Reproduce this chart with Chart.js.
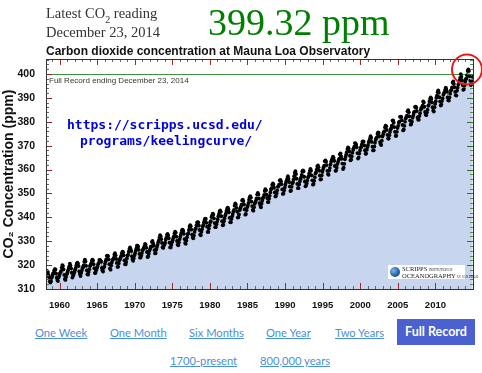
<!DOCTYPE html>
<html>
<head>
<meta charset="utf-8">
<script src="https://cdn.jsdelivr.net/npm/chart.js@4.4.1/dist/chart.umd.min.js"></script>
<style>
  body { margin: 0; background: #fff; }
  #wrap { position: relative; width: 482px; height: 373px; overflow: hidden; }
  #keeling { position: absolute; left: 0; top: 0; }
  .abs { position: absolute; white-space: nowrap; }
  .latest { left: 46px; top: 5px; font: 14.5px/17.5px "Liberation Serif", serif; color: #333; }
  .latest .sub { font-size: 10px; position: relative; top: 5px; }
  .ppm { left: 208px; top: 3px; font: 38px/38px "Liberation Serif", serif; color: #008000; }
  .title { left: 46px; top: 44px; font: bold 12px/14px "Liberation Sans", Arial, sans-serif; color: #111; }
  .url { font: bold 13px/16px "DejaVu Sans Mono", monospace; color: #0000dd; }
  .logo { left: 388px; top: 265px; width: 77px; height: 14px; background: #fff; }
  .logo .globe { position: absolute; left: 2px; top: 2px; width: 10px; height: 10px; border-radius: 50%;
                 background: radial-gradient(circle at 35% 35%, #7fb6e8, #1d5fa8 60%, #0d3b73); }
  .logo .t1 { position: absolute; left: 14px; top: 0px; font: 6.5px/7px "Liberation Serif", serif; color: #222; }
  .logo .t2 { position: absolute; left: 14px; top: 6.5px; font: 6.5px/7px "Liberation Serif", serif; color: #222; }
  .logo small { font-size: 3px; }
  .lnk { font: 11.2px/16px Lato, "Open Sans", sans-serif; color: #4a8fd8; text-decoration: underline; }
  .btn { left: 397px; top: 319px; width: 78px; height: 26px; background: #4a61cf; color: #fff;
         font: bold 12.5px/26px Lato, sans-serif; text-align: center; }
</style>
</head>
<body>
<div id="wrap">
  <canvas id="keeling" width="482" height="310"></canvas>

  <div class="abs latest">Latest CO<span class="sub">2</span> reading<br>December 23, 2014</div>
  <div class="abs ppm">399.32 ppm</div>
  <div class="abs title">Carbon dioxide concentration at Mauna Loa Observatory</div>

  <div class="abs url" style="left:67px; top:117px;">https://scripps.ucsd.edu/</div>
  <div class="abs url" style="left:80px; top:133px;">programs/keelingcurve/</div>

  <div class="abs logo">
    <div class="globe"></div>
    <div class="t1">SCRIPPS <small>INSTITUTION OF</small></div>
    <div class="t2">OCEANOGRAPHY <small>UC SAN DIEGO</small></div>
  </div>

  <div class="abs lnk" style="left:35px; top:325px;">One Week</div>
  <div class="abs lnk" style="left:110px; top:325px;">One Month</div>
  <div class="abs lnk" style="left:189px; top:325px;">Six Months</div>
  <div class="abs lnk" style="left:266px; top:325px;">One Year</div>
  <div class="abs lnk" style="left:335px; top:325px;">Two Years</div>
  <div class="abs btn">Full Record</div>
  <div class="abs lnk" style="left:170px; top:353px;">1700-present</div>
  <div class="abs lnk" style="left:260px; top:353px;">800,000 years</div>
</div>

<script>
// monthly CO2 (ppm), first value is March 1958
const co2_1950s = [
  315.7, 317.5, 317.5, 317.1, 315.9, 314.9, 313.2, 312.7, 313.3, 314.7,
  315.6, 316.4, 316.7, 317.7, 318.3, 318.2, 316.5, 314.8, 313.8, 313.3, 314.8, 315.6
];
const co2_1960s = [
  316.4, 317.0, 317.6, 319.0, 320.0, 319.6, 318.2, 315.9, 314.2, 313.8, 315.0, 316.2,
  316.9, 317.7, 318.5, 319.5, 320.6, 319.8, 318.6, 316.8, 314.8, 315.4, 316.1, 317.0,
  317.9, 318.6, 319.7, 320.6, 321.0, 320.6, 319.6, 317.4, 316.3, 315.4, 316.7, 317.7,
  318.7, 319.1, 319.9, 321.4, 322.3, 321.5, 319.7, 317.8, 316.2, 316.0, 317.1, 318.3,
  319.6, 320.1, 320.7, 321.8, 322.3, 321.9, 320.4, 318.7, 316.7, 316.8, 317.8, 318.7,
  319.4, 320.4, 320.9, 322.1, 322.2, 321.9, 321.4, 318.8, 317.8, 317.3, 318.9, 319.4,
  320.6, 321.6, 322.4, 323.9, 324.0, 323.8, 322.4, 320.4, 318.6, 318.1, 319.8, 321.1,
  322.1, 322.5, 323.0, 324.4, 325.0, 324.1, 322.6, 320.9, 319.3, 319.3, 320.7, 322.0,
  322.6, 323.2, 323.9, 325.0, 325.6, 325.4, 324.1, 322.0, 320.4, 320.3, 321.3, 322.8,
  324.0, 324.4, 325.6, 326.7, 327.4, 326.7, 325.9, 323.7, 322.4, 321.8, 322.9, 324.1
];
const co2_1970s = [
  325.0, 326.0, 326.9, 328.1, 328.1, 327.7, 326.4, 324.7, 323.1, 323.2, 324.0, 325.1,
  326.2, 326.7, 327.2, 327.8, 328.9, 328.6, 327.3, 325.5, 323.4, 323.6, 324.8, 326.0,
  326.8, 327.6, 327.8, 329.7, 330.1, 329.1, 328.1, 326.3, 324.9, 325.1, 326.5, 327.6,
  328.5, 329.6, 330.3, 331.5, 332.5, 332.1, 330.9, 329.3, 327.5, 327.2, 328.2, 328.6,
  329.4, 330.7, 331.5, 332.7, 333.1, 332.3, 331.2, 329.4, 327.4, 327.4, 328.5, 329.6,
  330.4, 331.4, 332.0, 333.3, 334.0, 333.6, 331.9, 330.1, 328.6, 328.3, 329.5, 330.8,
  331.8, 332.6, 333.5, 334.6, 334.9, 334.3, 333.1, 330.9, 329.3, 328.9, 330.3, 331.7,
  332.9, 333.4, 334.7, 336.1, 336.7, 336.3, 334.9, 332.8, 331.6, 331.2, 332.4, 333.9,
  335.0, 335.4, 336.6, 337.8, 338.0, 337.9, 336.5, 334.7, 332.8, 332.5, 333.9, 335.0,
  336.2, 336.8, 338.0, 338.9, 339.5, 339.3, 337.7, 336.1, 333.9, 333.9, 335.3, 336.7
];
const co2_1980s = [
  338.0, 338.4, 340.1, 340.8, 341.5, 341.2, 339.6, 337.6, 335.9, 336.0, 337.1, 338.2,
  339.2, 340.5, 341.4, 342.5, 342.9, 342.3, 340.5, 338.4, 336.7, 336.9, 338.4, 339.6,
  340.8, 341.6, 342.7, 343.6, 344.1, 343.4, 342.1, 339.8, 338.0, 337.9, 339.3, 340.5,
  341.4, 342.5, 343.1, 344.9, 345.8, 345.3, 344.0, 342.4, 339.9, 340.0, 341.2, 343.0,
  343.7, 344.5, 345.3, 347.1, 347.4, 346.8, 345.4, 343.3, 341.1, 341.4, 343.0, 344.2,
  345.0, 346.0, 347.4, 348.4, 348.9, 348.3, 346.6, 344.7, 343.1, 342.8, 344.2, 345.6,
  346.3, 347.0, 347.9, 349.6, 350.2, 349.6, 347.9, 345.9, 344.9, 344.2, 345.7, 346.9,
  348.0, 348.5, 349.4, 351.0, 351.8, 351.3, 349.5, 348.1, 346.4, 346.4, 347.8, 349.0,
  350.4, 351.7, 352.2, 353.6, 354.2, 353.8, 352.4, 350.4, 348.7, 348.9, 350.1, 351.3,
  352.8, 353.1, 353.7, 355.4, 355.7, 355.1, 353.9, 351.7, 349.8, 350.0, 351.3, 352.5
];
const co2_1990s = [
  353.7, 354.7, 355.4, 356.2, 357.2, 356.2, 354.8, 352.9, 351.0, 351.2, 352.8, 354.2,
  354.7, 355.8, 357.2, 358.6, 359.3, 358.2, 356.2, 354.0, 352.2, 352.2, 353.8, 355.0,
  356.0, 356.7, 357.8, 359.2, 359.7, 359.3, 357.0, 355.0, 353.0, 353.3, 354.2, 355.4,
  356.7, 357.2, 358.4, 359.5, 360.3, 359.6, 357.6, 355.5, 353.7, 354.0, 355.3, 356.8,
  358.4, 358.9, 360.0, 361.3, 361.7, 361.0, 359.6, 357.5, 355.8, 356.0, 357.6, 359.0,
  360.0, 361.0, 361.6, 363.5, 363.8, 363.3, 361.9, 359.5, 358.1, 357.8, 359.6, 360.7,
  362.1, 363.3, 364.0, 364.7, 365.4, 365.0, 363.7, 361.5, 359.5, 359.6, 360.8, 362.3,
  363.2, 364.0, 364.6, 366.4, 366.8, 365.6, 364.5, 362.5, 360.2, 360.8, 362.4, 364.3,
  365.3, 366.2, 367.3, 368.6, 369.3, 368.9, 367.6, 365.8, 363.9, 364.2, 365.5, 367.0,
  368.2, 368.9, 369.6, 371.1, 371.0, 370.4, 369.3, 366.9, 364.6, 365.1, 366.7, 368.0
];
const co2_2000s = [
  369.1, 369.5, 370.5, 371.7, 371.8, 371.7, 370.1, 368.1, 366.6, 366.7, 368.3, 369.5,
  370.3, 371.5, 372.1, 372.9, 374.0, 373.3, 371.6, 369.6, 368.0, 368.1, 369.7, 371.2,
  372.4, 373.1, 373.5, 374.9, 375.6, 375.4, 374.0, 371.5, 370.7, 370.3, 372.1, 373.8,
  374.7, 375.6, 376.1, 377.7, 378.4, 378.1, 376.6, 374.5, 373.0, 373.0, 374.4, 375.7,
  376.8, 377.4, 378.4, 380.5, 380.6, 379.6, 377.8, 375.8, 374.1, 374.2, 375.8, 377.4,
  378.3, 379.6, 380.1, 382.1, 382.2, 382.1, 380.7, 378.7, 376.4, 376.8, 378.3, 380.0,
  381.4, 382.0, 382.6, 384.4, 384.9, 384.0, 382.3, 380.5, 378.8, 379.1, 380.1, 381.7,
  382.6, 383.7, 384.3, 386.2, 386.4, 385.9, 384.5, 381.8, 380.9, 380.9, 382.4, 383.6,
  385.1, 385.8, 385.8, 386.8, 388.5, 388.1, 386.3, 384.1, 383.1, 382.8, 384.0, 385.1,
  386.7, 387.1, 388.5, 389.6, 390.2, 389.6, 388.1, 386.1, 384.7, 384.3, 386.1, 387.5
];
const co2_2010s = [
  388.6, 390.1, 391.0, 392.4, 393.2, 392.2, 390.3, 388.5, 386.8, 387.2, 388.7, 389.8,
  391.3, 391.9, 392.5, 393.4, 394.3, 393.7, 392.6, 390.2, 389.0, 388.9, 390.2, 391.8,
  393.1, 393.4, 394.4, 396.4, 396.9, 395.9, 394.5, 392.5, 391.1, 391.0, 393.0, 394.3,
  395.6, 396.9, 397.3, 398.4, 400.0, 398.9, 397.4, 395.4, 393.4, 393.7, 395.2, 396.8,
  397.9, 398.1, 399.5, 401.3, 401.9, 401.3, 399.1, 397.2, 395.4, 395.7, 397.2, 398.8
];

const firstYear = 1958, firstMonth = 2;   // March 1958
const xTicks = [1960, 1965, 1970, 1975, 1980, 1985, 1990, 1995, 2000, 2005, 2010];
const yTicks = [310, 320, 330, 340, 350, 360, 370, 380, 390, 400];
const xRange = [1958.2, 2015.0];
const yRange = [310, 406.3];
const refLevel = 400;                      // green line
const latest = { x: 2014.2, y: 401.9 };    // red circle

const co2 = [].concat(co2_1950s, co2_1960s, co2_1970s, co2_1980s, co2_1990s, co2_2000s, co2_2010s);
const points = co2.map((v, i) => ({ x: firstYear + (firstMonth + i + 0.5) / 12, y: v }));

const FONT = '"Liberation Sans", Arial, sans-serif';

// frame, inward ticks, 400 line, notes
const frameTicks = {
    id: 'frameTicks',
    beforeDatasetsDraw(chart) {
        const { ctx, chartArea: a, scales: { y } } = chart;
        const py = Math.round(y.getPixelForValue(refLevel)) + 0.5;
        ctx.save();
        ctx.strokeStyle = '#3f8f3f';
        ctx.lineWidth = 1;
        ctx.beginPath();
        ctx.moveTo(a.left, py);
        ctx.lineTo(a.right, py);
        ctx.stroke();
        ctx.fillStyle = '#333';
        ctx.font = '8px ' + FONT;
        ctx.textBaseline = 'middle';
        ctx.fillText('Full Record ending December 23, 2014', a.left + 3, py + 6);
        ctx.restore();
    },
    afterDraw(chart) {
        const { ctx, chartArea: a, scales: { x, y } } = chart;
        ctx.save();
        ctx.lineWidth = 1;

        // minor/major ticks along x (top and bottom)
        for (let yr = 1959; yr <= 2014; yr++) {
            const px = Math.round(x.getPixelForValue(yr)) + 0.5;
            const major = yr % 5 === 0;
            const len = major ? 6 : 3;
            ctx.strokeStyle = major ? '#a02828' : '#666';
            ctx.beginPath();
            ctx.moveTo(px, a.bottom); ctx.lineTo(px, a.bottom - len);
            ctx.moveTo(px, a.top); ctx.lineTo(px, a.top + len);
            ctx.stroke();
        }
        // minor/major ticks along y (left and right)
        for (let v = 312; v <= 406; v += 2) {
            const py = Math.round(y.getPixelForValue(v)) + 0.5;
            const major = v % 10 === 0;
            const len = major ? 6 : 3;
            ctx.strokeStyle = major ? '#8a2a2a' : '#666';
            ctx.beginPath();
            ctx.moveTo(a.left, py); ctx.lineTo(a.left + len, py);
            ctx.stroke();
            ctx.strokeStyle = major ? '#2f6f2f' : '#5a8a5a';
            ctx.beginPath();
            ctx.moveTo(a.right, py); ctx.lineTo(a.right - len, py);
            ctx.stroke();
        }

        // frame
        ctx.strokeStyle = '#333';
        ctx.strokeRect(Math.round(a.left) + 0.5, Math.round(a.top) + 0.5,
            Math.round(a.right - a.left), Math.round(a.bottom - a.top));

        // red circle round the latest reading
        ctx.strokeStyle = '#e8191c';
        ctx.lineWidth = 2;
        ctx.beginPath();
        ctx.arc(x.getPixelForValue(latest.x), y.getPixelForValue(latest.y), 15, 0, Math.PI * 2);
        ctx.stroke();
        ctx.restore();
    }
};

new Chart(document.getElementById('keeling'), {
    type: 'line',
    data: {
        datasets: [{
            data: points,
            borderColor: 'rgba(40,130,40,0.6)',
            borderWidth: 0.6,
            backgroundColor: '#c7d6ee',
            fill: 'start',
            pointRadius: 1.9,
            pointBackgroundColor: '#000',
            pointBorderWidth: 0,
            tension: 0
        }]
    },
    options: {
        responsive: false,
        animation: false,
        devicePixelRatio: 1,
        layout: { padding: { top: 59, right: 9, left: 0, bottom: 0 } },
        plugins: { legend: { display: false }, tooltip: { enabled: false } },
        scales: {
            x: {
                type: 'linear',
                min: xRange[0],
                max: xRange[1],
                grid: { display: false },
                border: { display: false },
                afterBuildTicks: s => { s.ticks = xTicks.map(v => ({ value: v })); },
                afterFit: s => { s.height = 21; },
                ticks: {
                    autoSkip: false,
                    maxRotation: 0,
                    padding: 3,
                    color: '#111',
                    font: { family: FONT, size: 9.5, weight: 'bold' },
                    callback: v => String(v)
                }
            },
            y: {
                min: yRange[0],
                max: yRange[1],
                grid: { display: false },
                border: { display: false },
                afterBuildTicks: s => { s.ticks = yTicks.map(v => ({ value: v })); },
                afterFit: s => { s.width = 46; },
                ticks: {
                    padding: 3,
                    color: '#111',
                    font: { family: FONT, size: 10.5, weight: 'bold' }
                },
                title: {
                    display: true,
                    text: 'CO₂ Concentration (ppm)',
                    color: '#111',
                    padding: { top: 1, bottom: 0 },
                    font: { family: FONT, size: 14, weight: 'bold' }
                }
            }
        }
    },
    plugins: [frameTicks]
});
</script>
</body>
</html>
